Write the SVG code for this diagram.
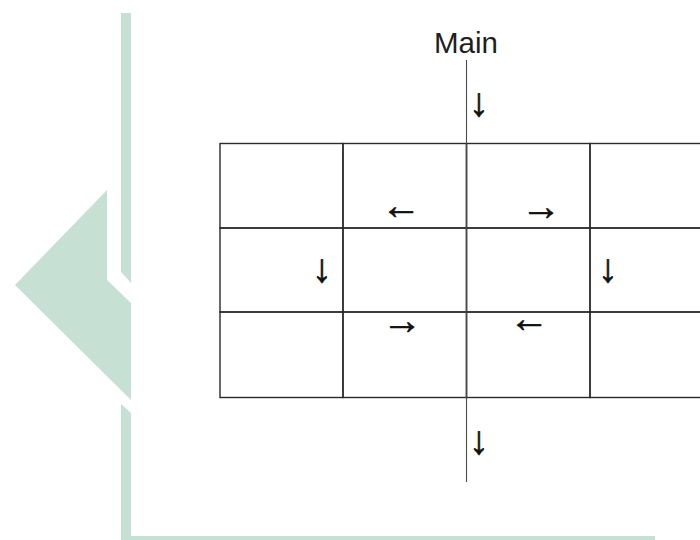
<svg xmlns="http://www.w3.org/2000/svg" width="700" height="540" viewBox="0 0 700 540">
  <style>
    .mark { fill: #c6e1d3; }
    .cell { fill: none; stroke: #2a2a2a; stroke-width: 1.4; }
    .spine { stroke: #4a4a4a; stroke-width: 1.1; fill: none; }
    .lbl { font-family: "Liberation Sans", Arial, sans-serif; fill: #1e1e1e; }
    .arr { font-family: "Liberation Sans", Arial, sans-serif; fill: #111; font-size: 40px; text-anchor: middle; dominant-baseline: central; stroke: #111; stroke-width: 0.6; }
  </style>
  <rect width="700" height="540" fill="#ffffff"/>

  <!-- background emblem -->
  <g id="emblem">
    <polygon class="mark" points="121,13 131,13 131,283 121,272"/>
    <polygon class="mark" points="15,285 107,190 107,280 131,303 131,400"/>
    <polygon class="mark" points="121,404 131,413 131,540 121,540"/>
    <rect class="mark" x="121" y="536" width="534" height="4"/>
  </g>

  <!-- grid cells -->
  <g id="cell-r1c1"><rect class="cell" x="220" y="143.5" width="123" height="84.5"/></g>
  <g id="cell-r1c2"><rect class="cell" x="343" y="143.5" width="123.5" height="84.5"/></g>
  <g id="cell-r1c3"><rect class="cell" x="466.5" y="143.5" width="123.5" height="84.5"/></g>
  <g id="cell-r1c4"><rect class="cell" x="590" y="143.5" width="115" height="84.5"/></g>
  <g id="cell-r2c1"><rect class="cell" x="220" y="228" width="123" height="84"/></g>
  <g id="cell-r2c2"><rect class="cell" x="343" y="228" width="123.5" height="84"/></g>
  <g id="cell-r2c3"><rect class="cell" x="466.5" y="228" width="123.5" height="84"/></g>
  <g id="cell-r2c4"><rect class="cell" x="590" y="228" width="115" height="84"/></g>
  <g id="cell-r3c1"><rect class="cell" x="220" y="312" width="123" height="85.5"/></g>
  <g id="cell-r3c2"><rect class="cell" x="343" y="312" width="123.5" height="85.5"/></g>
  <g id="cell-r3c3"><rect class="cell" x="466.5" y="312" width="123.5" height="85.5"/></g>
  <g id="cell-r3c4"><rect class="cell" x="590" y="312" width="115" height="85.5"/></g>

  <!-- title -->
  <g id="main-label">
    <text class="lbl" x="466" y="53" font-size="29.5" text-anchor="middle">Main</text>
  </g>

  <!-- flow lines and direction arrows -->
  <g id="connectors">
    <line class="spine" x1="466.5" y1="60" x2="466.5" y2="482"/>
    <text class="arr" x="479" y="102">↓</text>
    <text class="arr" x="401" y="205">←</text>
    <text class="arr" x="541" y="206">→</text>
    <text class="arr" x="322" y="268">↓</text>
    <text class="arr" x="608" y="268">↓</text>
    <text class="arr" x="402" y="320">→</text>
    <text class="arr" x="529" y="318">←</text>
    <text class="arr" x="479" y="440">↓</text>
  </g>
</svg>
